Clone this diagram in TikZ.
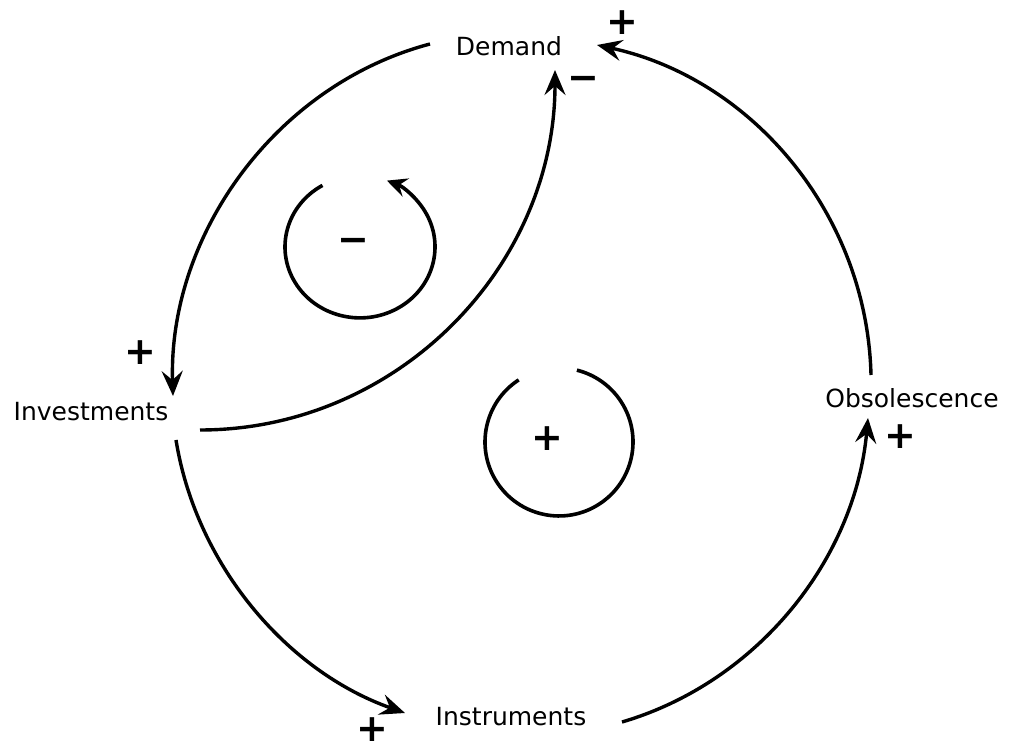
\documentclass[tikz,border=0pt]{standalone}
\usepackage{fontspec}
\setmainfont{DejaVu Sans}
\usetikzlibrary{arrows.meta}

\begin{document}
\begin{tikzpicture}[x=1pt, y=1pt,
  vbl/.style={font=\fontsize{25}{30}\selectfont, inner sep=0pt},
  sgn/.style={font=\fontsize{38}{38}\selectfont\bfseries, inner sep=0pt},
  infl/.style={line width=3.4pt, -{Stealth[length=25pt, width=21pt, inset=9pt]}},
  cyc/.style={line width=3.6pt},
]
\useasboundingbox (0,0) rectangle (1009,750);
% variables
\node[vbl] (dem) at (509,704) {Demand};
\node[vbl] (inv) at (91,338) {Investments};
\node[vbl] (obs) at (912,352) {Obsolescence};
\node[vbl] (ins) at (511,33) {Instruments};
% polarities
\node[sgn] (s1) at (622,727) {+};
\node[sgn] (s2) at (583,667) {−};
\node[sgn] (s3) at (140,397) {+};
\node[sgn] (s4) at (372,20) {+};
\node[sgn] (s5) at (900,313) {+};
% loop signs
\node[sgn] (l1) at (353,505) {−};
\node[sgn] (l2) at (547,311) {+};
% links
\draw[infl] ([shift={(-79,2)}]dem.center) .. controls (275,665) and (168,514) .. ([shift={(82,16)}]inv.center);
\draw[infl] ([shift={(109,-18)}]inv.center) .. controls (397,320) and (555,483) .. ([shift={(46,-24)}]dem.center);
\draw[infl] ([shift={(85,-28)}]inv.center) .. controls (196,186) and (286,79) .. ([shift={(-106,4)}]ins.center);
\draw[infl] ([shift={(111,-5)}]ins.center) .. controls (758,68) and (855,191) .. ([shift={(-44,-20)}]obs.center);
\draw[infl] ([shift={(-41,23)}]obs.center) .. controls (867,535) and (753,671) .. ([shift={(88,1)}]dem.center);
% loops
\draw[cyc, -{Stealth[length=20pt, width=19pt, inset=7pt]}] ([shift={(-30.5,59.6)}]l1.center)
  arc[start angle=120, end angle=429, x radius=75, y radius=71];
\draw[cyc] ([shift={(-28.3,59.1)}]l2.center)
  arc[start angle=123, end angle=436, x radius=74, y radius=74];
\end{tikzpicture}
\end{document}
